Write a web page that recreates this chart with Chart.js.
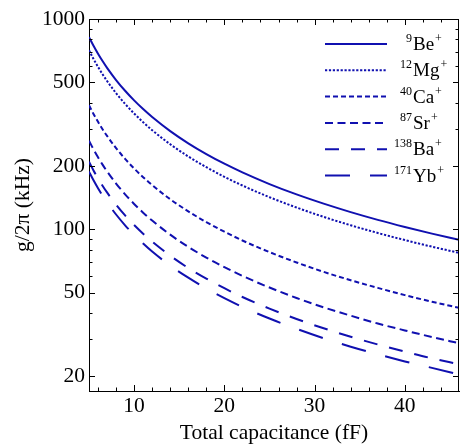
<!DOCTYPE html>
<html>
<head>
<meta charset="utf-8">
<script src="https://cdn.jsdelivr.net/npm/chart.js@4.4.1/dist/chart.umd.min.js"></script>
<style>
html, body { margin: 0; padding: 0; background: #fff; }
</style>
</head>
<body>
<canvas id="chart" width="460" height="448"></canvas>
<script>
// total capacitance (fF)
var capacitance = [5, 5.5, 6, 6.5, 7, 8, 9, 10, 11, 12, 14, 16, 18, 20, 22, 25, 28, 31, 34, 37, 40, 43, 46];
// g/2pi (kHz) for each ion
var gBe = [820, 745.5, 683.3, 630.8, 585.7, 512.5, 455.6, 410, 372.7, 341.7, 292.9, 256.3, 227.8, 205, 186.4, 164, 146.4, 132.3, 120.6, 110.8, 102.5, 95.3, 89.1];
var gMg = [710.2, 645.6, 591.8, 546.3, 507.3, 443.9, 394.6, 355.1, 322.8, 295.9, 253.6, 221.9, 197.3, 177.6, 161.4, 142, 126.8, 114.5, 104.4, 96, 88.8, 82.6, 77.2];
var gCa = [389, 353.6, 324.2, 299.2, 277.9, 243.1, 216.1, 194.5, 176.8, 162.1, 138.9, 121.6, 108.1, 97.3, 88.4, 77.8, 69.5, 62.7, 57.2, 52.6, 48.6, 45.2, 42.3];
var gSr = [263.8, 239.8, 219.8, 202.9, 188.4, 164.9, 146.6, 131.9, 119.9, 109.9, 94.2, 82.4, 73.3, 66, 60, 52.8, 47.1, 42.5, 38.8, 35.6, 33, 30.7, 28.7];
var gBa = [209.4, 190.4, 174.5, 161.1, 149.6, 130.9, 116.3, 104.7, 95.2, 87.3, 74.8, 65.4, 58.2, 52.4, 47.6, 41.9, 37.4, 33.8, 30.8, 28.3, 26.2, 24.3, 22.8];
var gYb = [188, 170.9, 156.7, 144.6, 134.3, 117.5, 104.4, 94, 85.5, 78.3, 67.1, 58.8, 52.2, 47, 42.7, 37.6, 33.6, 30.3, 27.6, 25.4, 23.5, 21.9, 20.4];

var ionMass = ['9', '12', '40', '87', '138', '171'];
var ionName = ['Be', 'Mg', 'Ca', 'Sr', 'Ba', 'Yb'];
var ionLabels = ['⁹Be⁺', '¹²Mg⁺', '⁴⁰Ca⁺', '⁸⁷Sr⁺', '¹³⁸Ba⁺', '¹⁷¹Yb⁺'];

var xMajor = [10, 20, 30, 40];
var xMinor = [6, 8, 12, 14, 16, 18, 22, 24, 26, 28, 32, 34, 36, 38, 42, 44];
var yMajor = [20, 50, 100, 200, 500, 1000];
var yMinor = [30, 40, 60, 70, 80, 90, 300, 400, 600, 700, 800, 900];

var blue = '#1010b0';
var dashes = [[], [2.2, 1.7], [5, 3], [8, 4.5], [14, 12], [25, 20]];
var serif = "'Liberation Serif', 'DejaVu Serif', serif";

function makeSet(i, vals) {
  var pts = [];
  for (var k = 0; k < capacitance.length; k++) {
    pts.push({x: capacitance[k], y: vals[k]});
  }
  return {
    label: ionLabels[i],
    data: pts,
    borderColor: blue,
    borderWidth: 2,
    borderDash: dashes[i],
    pointRadius: 0,
    fill: false,
    cubicInterpolationMode: 'monotone'
  };
}

// frame, inward ticks on all four sides, and the legend box
var decor = {
  id: 'decor',
  afterDraw: function(chart) {
    var ctx = chart.ctx;
    var a = chart.chartArea;
    var xs = chart.scales.x, ys = chart.scales.y;
    ctx.save();
    ctx.strokeStyle = '#000';
    ctx.lineWidth = 1;
    ctx.setLineDash([]);
    ctx.beginPath();
    ctx.moveTo(a.left, a.top + 0.5);
    ctx.lineTo(a.right, a.top + 0.5);
    ctx.moveTo(a.right - 0.5, a.top);
    ctx.lineTo(a.right - 0.5, a.bottom);
    function xt(v, len) {
      var p = Math.round(xs.getPixelForValue(v)) + 0.5;
      ctx.moveTo(p, a.bottom); ctx.lineTo(p, a.bottom - len);
      ctx.moveTo(p, a.top); ctx.lineTo(p, a.top + len);
    }
    function yt(v, len) {
      var p = Math.round(ys.getPixelForValue(v)) + 0.5;
      ctx.moveTo(a.left, p); ctx.lineTo(a.left + len, p);
      ctx.moveTo(a.right, p); ctx.lineTo(a.right - len, p);
    }
    xMajor.forEach(function(v) { xt(v, 6); });
    xMinor.forEach(function(v) { xt(v, 3.5); });
    yMajor.forEach(function(v) { yt(v, 6); });
    yMinor.forEach(function(v) { yt(v, 3.5); });
    ctx.stroke();

    // legend
    var rowY = 44, rowH = 26.3;
    var lineX0 = 325, lineX1 = 387, textX = 413;
    chart.data.datasets.forEach(function(ds, i) {
      var y = rowY + i * rowH;
      ctx.strokeStyle = blue;
      ctx.lineWidth = 2;
      ctx.setLineDash(ds.borderDash);
      ctx.beginPath();
      ctx.moveTo(lineX0, y);
      ctx.lineTo(lineX1, y);
      ctx.stroke();
      ctx.fillStyle = '#000';
      ctx.textBaseline = 'alphabetic';
      ctx.font = '19px ' + serif;
      ctx.textAlign = 'left';
      ctx.fillText(ionName[i], textX, y + 6);
      var w = ctx.measureText(ionName[i]).width;
      ctx.font = '12px ' + serif;
      ctx.fillText('+', textX + w + 1, y - 2);
      ctx.textAlign = 'right';
      ctx.fillText(ionMass[i], textX - 1, y - 2);
    });
    ctx.restore();
  }
};

new Chart(document.getElementById('chart'), {
  type: 'line',
  data: {
    datasets: [
      makeSet(0, gBe), makeSet(1, gMg), makeSet(2, gCa),
      makeSet(3, gSr), makeSet(4, gBa), makeSet(5, gYb)
    ]
  },
  options: {
    responsive: false,
    animation: false,
    devicePixelRatio: 1,
    layout: { padding: { top: 19, right: 1, left: 0, bottom: 0 } },
    plugins: { legend: { display: false }, tooltip: { enabled: false } },
    scales: {
      x: {
        type: 'linear',
        min: 5,
        max: 46,
        afterBuildTicks: function(s) { s.ticks = xMajor.map(function(v) { return {value: v}; }); },
        afterFit: function(s) { s.height = 57; },
        grid: { display: false, drawTicks: false },
        border: { display: true, color: '#000', width: 1 },
        ticks: { color: '#000', padding: 2, maxRotation: 0, font: { family: serif, size: 21.5 } },
        title: {
          display: true,
          text: 'Total capacitance (fF)',
          color: '#000',
          font: { family: serif, size: 21.5 },
          padding: { top: 4, bottom: 2 }
        }
      },
      y: {
        type: 'logarithmic',
        min: 17,
        max: 1000,
        afterBuildTicks: function(s) { s.ticks = yMajor.map(function(v) { return {value: v}; }); },
        afterFit: function(s) { s.width = 89; },
        grid: { display: false, drawTicks: false },
        border: { display: true, color: '#000', width: 1 },
        ticks: {
          color: '#000',
          padding: 4,
          font: { family: serif, size: 21.5 },
          callback: function(v) { return String(v); }
        },
        title: {
          display: true,
          text: 'g/2π (kHz)',
          color: '#000',
          font: { family: serif, size: 21.5 },
          padding: { top: 10, bottom: 4 }
        }
      }
    }
  },
  plugins: [decor]
});
</script>
</body>
</html>
